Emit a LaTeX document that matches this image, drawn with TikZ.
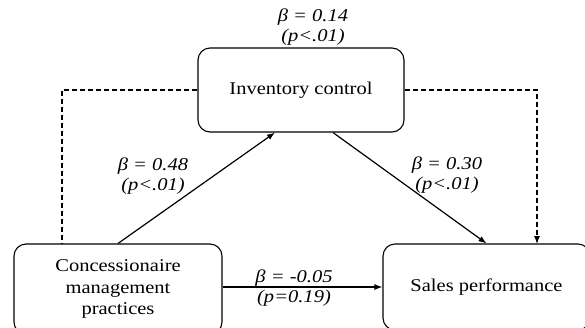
\documentclass[tikz,border=0pt]{standalone}
\usepackage{fontspec}
\setmainfont[FakeStretch=1.14]{Liberation Serif}
\usetikzlibrary{arrows.meta,calc}

\begin{document}
\begin{tikzpicture}[x=1pt, y=-1pt, font=\fontsize{18}{21.5}\selectfont, box/.style={rectangle, draw, rounded corners=12pt, line width=1.1pt, align=center}, coef/.style={font=\fontsize{18}{20}\selectfont\itshape, align=center, inner sep=0pt}, link/.style={line width=1.2pt, -{Latex[length=8pt,width=6pt]}}, indirect/.style={line width=1.1pt, dash pattern=on 5pt off 3pt}]

  \useasboundingbox (0,0) rectangle (585,327);

  \node[box, minimum width=206pt, minimum height=84pt] (inv) at (301,90) {Inventory control};
  \node[box, minimum width=208pt, minimum height=90pt] (conc) at (118,289) {Concessionaire\\management\\practices};
  \node[box, minimum width=207pt, minimum height=86pt] (sales) at (486.5,287) {Sales performance};
  \coordinate (lft) at (62,244);
  \coordinate (rgt) at (537,244);

  \draw[link] (conc.north) -- ($(inv.south)+(-26,0)$);
  \draw[link] ($(inv.south)+(32,0)$) -- (sales.north);
  \draw[link] (sales.west -| conc.east) -- (sales.west);
  \draw[indirect] (inv.west) -| (lft);
  \draw[indirect, -{Latex[length=8pt,width=6pt]}] (inv.east) -| (rgt);

  \node[coef] (b14) at (313,27) {β = 0.14\\(p<.01)};
  \node[coef] (b48) at (153,176) {β = 0.48\\(p<.01)};
  \node[coef] (b30) at (447,175) {β = 0.30\\(p<.01)};
  \node[coef] (b05) at (294,288.5) {β = -0.05\\(p=0.19)};
  \end{tikzpicture}
\end{document}
